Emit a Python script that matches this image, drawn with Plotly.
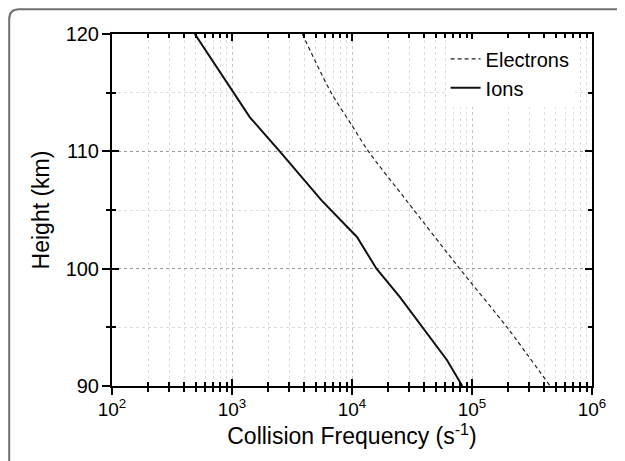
import plotly.graph_objects as go

# ---- data ----
ion_height = [120, 117.5, 115, 112.9, 110, 105.8, 102.7, 100, 97.6, 95, 92.2, 90]
ion_freq = [490, 710, 1020, 1410, 2500, 5600, 11000, 16000, 25000, 39000, 62000, 83000]

ele_height = [120, 115, 112.2, 110, 105.7, 100, 95, 90]
ele_freq = [3860, 6700, 10000, 13700, 29000, 79000, 196000, 447000]

x_tick_vals = [1e2, 1e3, 1e4, 1e5, 1e6]
x_tick_text = ["10<sup>2</sup>", "10<sup>3</sup>", "10<sup>4</sup>", "10<sup>5</sup>", "10<sup>6</sup>"]
x_minor_vals = [m * 10 ** e for e in range(2, 6) for m in range(2, 10)]
y_tick_vals = [90, 100, 110, 120]

FONT = "Liberation Sans, Arial, sans-serif"

fig = go.Figure()
fig.add_trace(go.Scatter(
    x=ele_freq, y=ele_height, mode="lines", name="Electrons",
    line=dict(color="#222222", width=1.2, dash="4px,3px", shape="spline", smoothing=0.8),
))
fig.add_trace(go.Scatter(
    x=ion_freq, y=ion_height, mode="lines", name="Ions",
    line=dict(color="#111111", width=2),
))
# invisible carriers so the overlaid tick-only axes get drawn
fig.add_trace(go.Scatter(
    x=ion_freq[:1], y=ion_height[:1], xaxis="x2", yaxis="y", mode="markers",
    marker=dict(opacity=0), showlegend=False, hoverinfo="skip",
))
fig.add_trace(go.Scatter(
    x=ion_freq[:1], y=ion_height[:1], xaxis="x", yaxis="y2", mode="markers",
    marker=dict(opacity=0), showlegend=False, hoverinfo="skip",
))

common_x = dict(type="log", range=[2, 6], tickvals=x_tick_vals)
fig.update_layout(
    width=617, height=453,
    margin=dict(l=104, r=33, t=26, b=75),
    paper_bgcolor="white", plot_bgcolor="white",
    font=dict(family=FONT, color="black"),
    showlegend=True,
    legend=dict(
        x=0.695, y=0.985, xanchor="left", yanchor="top",
        bgcolor="white", borderwidth=0,
        font=dict(size=20, family=FONT, color="black"),
        tracegroupgap=0,
    ),
    xaxis=dict(
        **common_x, ticktext=x_tick_text,
        showline=True, linecolor="black", linewidth=2, mirror=True,
        ticks="outside", ticklen=7, tickwidth=1.5, tickcolor="black",
        tickfont=dict(size=19, family=FONT), ticklabelstandoff=-2,
        showgrid=True, gridcolor="#c4c4c4", griddash="dot", gridwidth=1,
        minor=dict(tickmode="array", tickvals=x_minor_vals, ticks="outside",
                   ticklen=4, tickwidth=1.5, tickcolor="black",
                   showgrid=True, gridcolor="#dddddd", griddash="dot", gridwidth=1),
        title=dict(text="Collision Frequency (s<sup>-1</sup>)", font=dict(size=23, family=FONT),
                   standoff=9),
        zeroline=False,
    ),
    xaxis2=dict(
        **common_x, overlaying="x", anchor="y", side="bottom",
        showticklabels=False, showline=False, showgrid=False,
        ticks="inside", ticklen=7, tickwidth=1.5, tickcolor="black", mirror="ticks",
        minor=dict(tickmode="array", tickvals=x_minor_vals, ticks="inside",
                   ticklen=4, tickwidth=1.5, tickcolor="black", showgrid=False),
        zeroline=False,
    ),
    yaxis=dict(
        range=[90, 120], tickvals=y_tick_vals,
        showline=True, linecolor="black", linewidth=2, mirror=True,
        ticks="outside", ticklen=8, tickwidth=1.5, tickcolor="black",
        tickfont=dict(size=20, family=FONT), ticklabelstandoff=-1,
        showgrid=True, gridcolor="#999999", griddash="dot", gridwidth=1,
        minor=dict(dtick=5, ticks="outside", ticklen=4, tickwidth=1.5, tickcolor="black",
                   showgrid=True, gridcolor="#dddddd", griddash="dot", gridwidth=1),
        title=dict(text="Height (km)", font=dict(size=23, family=FONT), standoff=10),
        zeroline=False,
    ),
    yaxis2=dict(
        range=[90, 120], tickvals=y_tick_vals, overlaying="y", anchor="x", side="left",
        showticklabels=False, showline=False, showgrid=False,
        ticks="inside", ticklen=7, tickwidth=1.5, tickcolor="black", mirror="ticks",
        minor=dict(dtick=5, ticks="inside", ticklen=4, tickwidth=1.5, tickcolor="black",
                   showgrid=False),
        zeroline=False,
    ),
)

# rounded page frame (decoration, outside the plot area)
x0 = (1.2 - 104) / 480
ytop = (378 - 1.2) / 352
xr, yb = 1.2, -0.3
rx, ry = 10 / 480, 10 / 352
fig.add_shape(
    type="path", xref="paper", yref="paper",
    path=f"M {x0},{yb} L {x0},{ytop - ry} Q {x0},{ytop} {x0 + rx},{ytop} L {xr},{ytop}",
    line=dict(color="#707070", width=2),
)

fig.write_html("out.html")
